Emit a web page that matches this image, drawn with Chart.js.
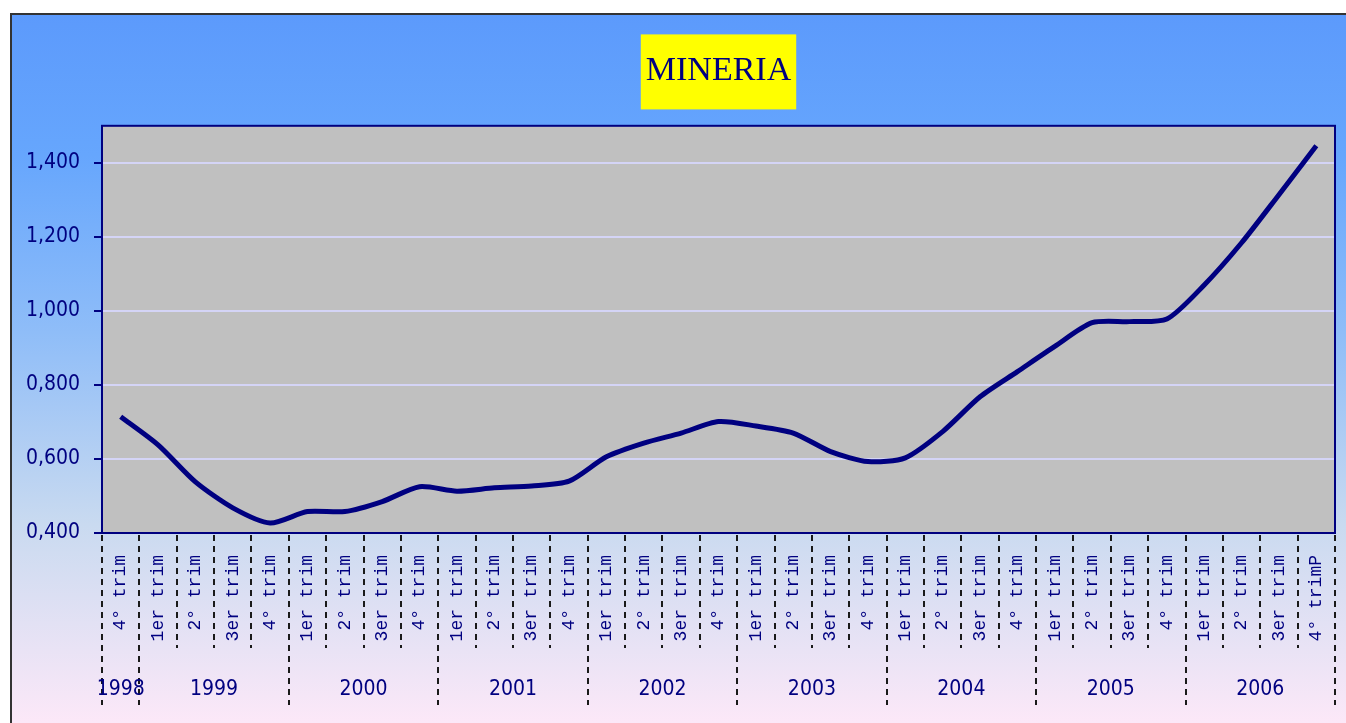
<!DOCTYPE html>
<html lang="es">
<head>
    <meta charset="UTF-8">
    <title>MINERIA</title>
    <script src="https://cdn.jsdelivr.net/npm/chart.js"></script>
    <style>
        body { margin: 0; background: #fff; }
        #caja { width: 1346px; height: 723px; }
    </style>
</head>
<body>
    <div id="caja"><canvas id="miGrafica"></canvas></div>

    <script>
        // datos
        const trimestres = [
            '4° trim',
            '1er trim', '2° trim', '3er trim', '4° trim',
            '1er trim', '2° trim', '3er trim', '4° trim',
            '1er trim', '2° trim', '3er trim', '4° trim',
            '1er trim', '2° trim', '3er trim', '4° trim',
            '1er trim', '2° trim', '3er trim', '4° trim',
            '1er trim', '2° trim', '3er trim', '4° trim',
            '1er trim', '2° trim', '3er trim', '4° trim',
            '1er trim', '2° trim', '3er trim', '4° trimP'
        ];
        const anios = ['1998', '1999', '2000', '2001', '2002', '2003', '2004', '2005', '2006'];
        const trimPorAnio = [1, 4, 4, 4, 4, 4, 4, 4, 4];
        const valores = [
            0.714,
            0.638, 0.538, 0.468, 0.427,
            0.458, 0.458, 0.485, 0.525,
            0.513, 0.522, 0.527, 0.540,
            0.606, 0.643, 0.670, 0.701,
            0.689, 0.670, 0.620, 0.593,
            0.603, 0.674, 0.768, 0.836,
            0.904, 0.968, 0.971, 0.978,
            1.070, 1.184, 1.314, 1.446
        ];
        const marcasY = [0.4, 0.6, 0.8, 1.0, 1.2, 1.4];

        const azul = '#000080';
        const fuenteNum = "'DejaVu Sans Condensed', 'Liberation Sans Narrow', sans-serif";

        const fondo = {
            id: 'fondo',
            beforeDraw(chart) {
                const { ctx, width, height, chartArea: a } = chart;
                ctx.save();
                ctx.fillStyle = '#fff';
                ctx.fillRect(0, 0, width, height);
                const g = ctx.createLinearGradient(0, 13, 0, height);
                g.addColorStop(0, '#5C9AFC');
                g.addColorStop(0.2, '#66A6FD');
                g.addColorStop(0.45, '#8FBDF8');
                g.addColorStop(0.72, '#C9DAF0');
                g.addColorStop(1, '#FCE8F8');
                ctx.fillStyle = g;
                ctx.fillRect(10, 13, width - 10, height - 13);
                ctx.strokeStyle = '#333';
                ctx.lineWidth = 2;
                ctx.beginPath();
                ctx.moveTo(11, height);
                ctx.lineTo(11, 14);
                ctx.lineTo(width, 14);
                ctx.stroke();

                // area del grafico
                ctx.fillStyle = '#C0C0C0';
                ctx.fillRect(a.left, a.top, a.right - a.left, a.bottom - a.top);

                // recuadro amarillo del titulo
                const t = chart.titleBlock;
                if (t) {
                    const f = t.options.font;
                    ctx.font = f.size + 'px ' + f.family;
                    const w = ctx.measureText(t.options.text).width + 10;
                    const cx = (t.left + t.right) / 2;
                    const cy = t.top + t.options.padding.top + f.size * 1.2 / 2;
                    ctx.fillStyle = '#FFFF00';
                    ctx.fillRect(cx - w / 2, cy - 37, w, 75);
                }
                ctx.restore();
            },
            afterDraw(chart) {
                const { ctx, chartArea: a } = chart;
                const xs = chart.scales.x;
                ctx.save();
                ctx.strokeStyle = azul;
                ctx.lineWidth = 2;
                ctx.strokeRect(a.left, a.top, a.right - a.left, a.bottom - a.top);

                // separadores de trimestres y anios
                const n = valores.length;
                const borde = k => {
                    if (k === 0) return xs.left;
                    if (k === n) return xs.right;
                    return (xs.getPixelForValue(k - 1) + xs.getPixelForValue(k)) / 2;
                };
                const inicios = [0];
                trimPorAnio.forEach(c => inicios.push(inicios[inicios.length - 1] + c));

                ctx.strokeStyle = '#1a1a1a';
                ctx.lineWidth = 2;
                ctx.setLineDash([6, 5]);
                for (let k = 0; k <= n; k++) {
                    const x = Math.round(borde(k));
                    const largo = inicios.includes(k) ? 172 : 115;
                    ctx.beginPath();
                    ctx.moveTo(x, a.bottom + 2);
                    ctx.lineTo(x, a.bottom + largo);
                    ctx.stroke();
                }
                ctx.setLineDash([]);

                ctx.fillStyle = azul;
                ctx.font = '21px ' + fuenteNum;
                ctx.textAlign = 'center';
                ctx.textBaseline = 'middle';
                anios.forEach((anio, i) => {
                    const x = (borde(inicios[i]) + borde(inicios[i + 1])) / 2;
                    ctx.fillText(anio, x, a.bottom + 157);
                });
                ctx.restore();
            }
        };

        const ctx = document.getElementById('miGrafica').getContext('2d');
        new Chart(ctx, {
            type: 'line',
            data: {
                labels: trimestres,
                datasets: [{
                    label: 'Mineria',
                    data: valores,
                    borderColor: azul,
                    borderWidth: 5,
                    pointRadius: 0,
                    tension: 0.25,
                    fill: false
                }]
            },
            options: {
                responsive: true,
                maintainAspectRatio: false,
                animation: false,
                layout: { padding: { left: 0, right: 11, top: 0, bottom: 0 } },
                plugins: {
                    legend: { display: false },
                    tooltip: { enabled: false },
                    title: {
                        display: true,
                        text: 'MINERIA',
                        fullSize: false,
                        color: azul,
                        font: { family: "'Liberation Serif', serif", size: 34, weight: 'normal', lineHeight: 1.2 },
                        padding: { top: 51, bottom: 34 }
                    }
                },
                scales: {
                    x: {
                        offset: true,
                        grid: { display: false, drawTicks: false },
                        border: { display: false },
                        ticks: {
                            autoSkip: false,
                            minRotation: 90,
                            maxRotation: 90,
                            padding: 22,
                            color: azul,
                            font: { family: "'Liberation Mono', monospace", size: 18 }
                        },
                        afterFit: s => {
                            s.height = 190;
                            s.paddingLeft = 0;
                            s.paddingRight = 0;
                        }
                    },
                    y: {
                        min: 0.4,
                        max: 1.5,
                        afterBuildTicks: s => { s.ticks = marcasY.map(v => ({ value: v })); },
                        grid: { color: '#D4D4F6', lineWidth: 2, tickLength: 8, tickColor: azul, tickWidth: 2 },
                        border: { display: false },
                        ticks: {
                            padding: 14,
                            color: azul,
                            font: { family: fuenteNum, size: 21 },
                            callback: v => v.toFixed(3).replace('.', ',')
                        },
                        afterFit: s => { s.width = 102; }
                    }
                }
            },
            plugins: [fondo]
        });
    </script>
</body>
</html>
